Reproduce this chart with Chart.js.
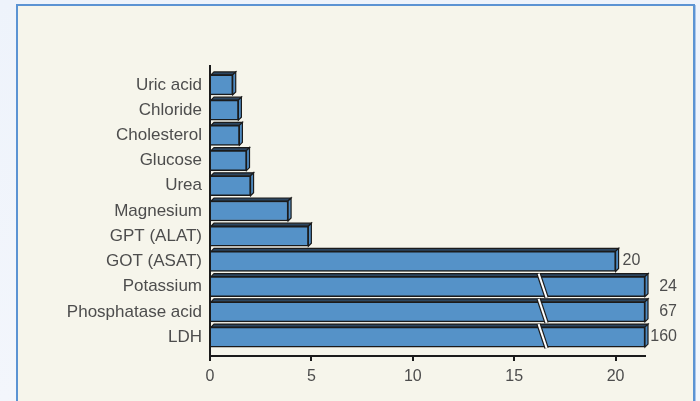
<!DOCTYPE html>
<html>
<head>
<meta charset="utf-8">
<script src="https://cdn.jsdelivr.net/npm/chart.js@4"></script>
<style>
  html, body { margin: 0; padding: 0; }
  body {
    width: 700px; height: 401px; overflow: hidden; position: relative;
    background: linear-gradient(180deg, #eef3fb 0%, #f3f6fc 100%);
  }
  .panel {
    position: absolute; left: 16px; top: 4px; width: 675px; height: 410px;
    background: #f6f5eb; border: 2px solid #5b93d3;
    box-shadow: 1px 1px 0 #a9c6ea;
  }
  canvas { position: absolute; left: 0; top: 0; }
</style>
</head>
<body>
<div class="panel"></div>
<canvas id="labChart" width="700" height="401"></canvas>
<script>
// Lab parameters, top to bottom
const categories = [
  "Uric acid", "Chloride", "Cholesterol", "Glucose", "Urea", "Magnesium",
  "GPT (ALAT)", "GOT (ASAT)", "Potassium", "Phosphatase acid", "LDH",
];
const values = [1.12, 1.4, 1.45, 1.8, 2.0, 3.85, 4.85, 20, 24, 67, 160];
const xTicks = [0, 5, 10, 15, 20];

const AXIS_MAX = 21.45;   // bars longer than this are cut and get a break mark
const BREAK_AT = 16.4;    // where the break mark sits on cut bars
const LABEL_FROM = 20;    // only these values get a number next to the bar

const COLORS = {
  bar: "#5592c8",
  side: "#4f8bc2",
  top: "#2c4660",
  edge: "#1b1b1b",
  text: "#4d4d4d",
};
const FONT = "'Liberation Sans', Arial, sans-serif";
const DEPTH = 3;

const plotted = values.map((v) => Math.min(v, AXIS_MAX));

// top and side faces drawn behind the front face
const bars3d = {
  id: "bars3d",
  beforeDatasetsDraw(chart) {
    const ctx = chart.ctx;
    const meta = chart.getDatasetMeta(0);
    ctx.save();
    ctx.lineWidth = 1.2;
    ctx.strokeStyle = COLORS.edge;
    meta.data.forEach((bar) => {
      const { x, y, base, height } = bar.getProps(["x", "y", "base", "height"], true);
      const top = y - height / 2;
      const bottom = y + height / 2;
      // top face
      ctx.beginPath();
      ctx.moveTo(base, top);
      ctx.lineTo(base + DEPTH, top - DEPTH);
      ctx.lineTo(x + DEPTH, top - DEPTH);
      ctx.lineTo(x, top);
      ctx.closePath();
      ctx.fillStyle = COLORS.top;
      ctx.fill();
      ctx.stroke();
      // side face
      ctx.beginPath();
      ctx.moveTo(x, top);
      ctx.lineTo(x + DEPTH, top - DEPTH);
      ctx.lineTo(x + DEPTH, bottom - DEPTH);
      ctx.lineTo(x, bottom);
      ctx.closePath();
      ctx.fillStyle = COLORS.side;
      ctx.fill();
      ctx.stroke();
    });
    ctx.restore();
  },
  afterDatasetsDraw(chart) {
    const ctx = chart.ctx;
    const meta = chart.getDatasetMeta(0);
    const xs = chart.scales.x;
    ctx.save();
    meta.data.forEach((bar, i) => {
      const { x, y, height } = bar.getProps(["x", "y", "height"], true);
      const top = y - height / 2;
      const bottom = y + height / 2;
      const cut = values[i] > AXIS_MAX;
      if (cut) {
        const xb = xs.getPixelForValue(BREAK_AT);
        ctx.lineCap = "butt";
        ctx.beginPath();
        ctx.moveTo(xb - 4, top - DEPTH);
        ctx.lineTo(xb + 4, bottom + 1);
        ctx.strokeStyle = COLORS.edge;
        ctx.lineWidth = 4.5;
        ctx.stroke();
        ctx.strokeStyle = "#ffffff";
        ctx.lineWidth = 2;
        ctx.stroke();
      }
      if (values[i] >= LABEL_FROM) {
        ctx.font = "16px " + FONT;
        ctx.fillStyle = COLORS.text;
        ctx.textBaseline = "middle";
        if (cut) {
          ctx.textAlign = "right";
          ctx.fillText(String(values[i]), chart.chartArea.right + 32, y);
        } else {
          ctx.textAlign = "left";
          ctx.fillText(String(values[i]), x + DEPTH + 4, y - 1);
        }
      }
    });
    ctx.restore();
  },
};

new Chart(document.getElementById("labChart"), {
  type: "bar",
  data: {
    datasets: [
      {
        data: plotted.map((v, i) => ({ x: v, y: i })),
        backgroundColor: COLORS.bar,
        borderColor: COLORS.edge,
        borderWidth: 1.5,
        barThickness: 20,
      },
    ],
  },
  options: {
    indexAxis: "y",
    responsive: false,
    animation: false,
    layout: { padding: { left: 0, right: 55, top: 66, bottom: 0 } },
    scales: {
      x: {
        type: "linear",
        min: 0,
        max: AXIS_MAX,
        afterFit: (s) => { s.height = 45; },
        afterBuildTicks: (s) => { s.ticks = xTicks.map((v) => ({ value: v })); },
        ticks: { color: COLORS.text, font: { family: FONT, size: 16 }, padding: 6 },
        grid: { drawOnChartArea: false, drawTicks: true, tickLength: 5, color: COLORS.edge, lineWidth: 2 },
        border: { color: COLORS.edge, width: 2 },
      },
      y: {
        type: "linear",
        reverse: true,
        offset: false,
        min: -0.75,
        max: 10.75,
        afterFit: (s) => { s.width = 210; },
        afterBuildTicks: (s) => { s.ticks = categories.map((c, i) => ({ value: i })); },
        ticks: {
          autoSkip: false,
          color: COLORS.text,
          font: { family: FONT, size: 17 },
          padding: 0,
          callback: (v) => categories[v],
        },
        grid: { display: false },
        border: { color: COLORS.edge, width: 2 },
      },
    },
    plugins: { legend: { display: false }, tooltip: { enabled: false } },
  },
  plugins: [bars3d],
});
</script>
</body>
</html>
